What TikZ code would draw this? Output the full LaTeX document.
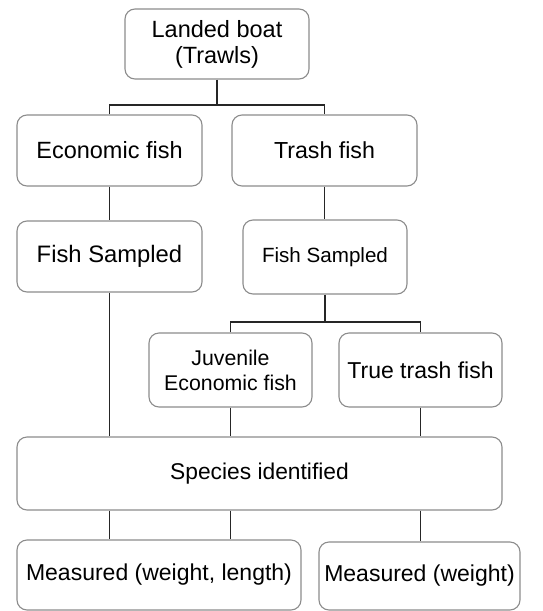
\documentclass[tikz,border=0pt]{standalone}
\usepackage{fontspec}
\setmainfont{Liberation Sans}
\begin{document}
\begin{tikzpicture}[x=1pt,y=-1pt,
  box/.style={draw=black!45, line width=1.1pt, rounded corners=10pt, inner sep=0pt, align=center, fill=white,
    font=\fontsize{23.5}{26}\selectfont},
  conn/.style={draw=black!85, line width=1.8pt}]
\useasboundingbox (0,0) rectangle (542,611);
\node[box, minimum width=184pt, minimum height=70pt] (top) at (217,44) {Landed boat\\(Trawls)};
\node[box, minimum width=185pt, minimum height=71pt] (econ) at (109.5,150.5) {Economic fish};
\node[box, minimum width=185pt, minimum height=71pt, font=\fontsize{23.2}{26}\selectfont] (trash) at (324.5,150.5) {Trash fish};
\node[box, minimum width=185pt, minimum height=71pt, font=\fontsize{23.8}{26}\selectfont] (fsl) at (109.5,256.5) {Fish Sampled};
\node[box, minimum width=164pt, minimum height=74pt, font=\fontsize{20.6}{24}\selectfont] (fsr) at (325,257) {Fish Sampled};
\node[box, minimum width=163pt, minimum height=74pt, font=\fontsize{21.3}{25}\selectfont] (juv) at (230.5,370) {Juvenile\\Economic fish};
\node[box, minimum width=163pt, minimum height=74pt, font=\fontsize{23}{26}\selectfont] (ttf) at (420.5,370) {True trash fish};
\node[box, minimum width=485pt, minimum height=73pt, font=\fontsize{22.8}{26}\selectfont] (spec) at (259.5,473.5) {Species identified};
\node[box, minimum width=284pt, minimum height=70pt, font=\fontsize{23}{26}\selectfont] (ml) at (159,575) {Measured (weight, length)};
\node[box, minimum width=201pt, minimum height=68pt, font=\fontsize{23}{26}\selectfont] (mr) at (419.5,576) {Measured (weight)};
\coordinate (bus1) at (217,105);
\coordinate (bus2) at (325,322);
\draw[conn] (top.south) -- (bus1);
\draw[conn] (econ.north) -- (econ.north |- bus1) -- (trash.north |- bus1) -- (trash.north);
\draw[conn] (econ.south) -- (fsl.north);
\draw[conn] (trash.south) -- (trash.south |- fsr.north);
\draw[conn] (fsr.south) -- (bus2);
\draw[conn] (juv.north) -- (juv.north |- bus2) -- (ttf.north |- bus2) -- (ttf.north);
\draw[conn] (fsl.south) -- (fsl.south |- spec.north);
\draw[conn] (juv.south) -- (juv.south |- spec.north);
\draw[conn] (ttf.south) -- (ttf.south |- spec.north);
\draw[conn] (spec.south -| fsl.south) -- (fsl.south |- ml.north);
\draw[conn] (spec.south -| juv.south) -- (juv.south |- ml.north);
\draw[conn] (spec.south -| ttf.south) -- (ttf.south |- mr.north);
\end{tikzpicture}
\end{document}
